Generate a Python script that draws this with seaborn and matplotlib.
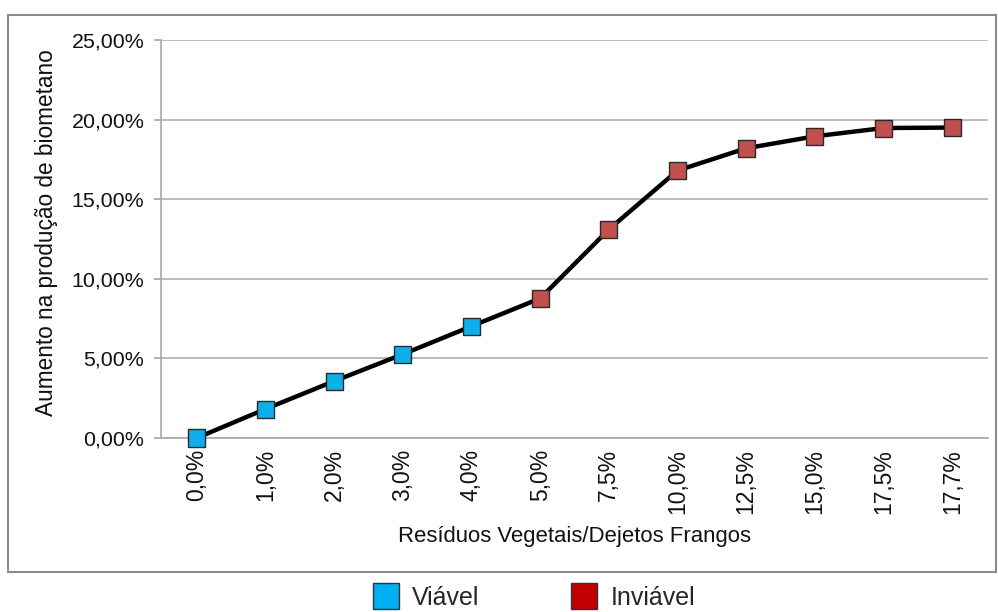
import matplotlib
matplotlib.use("Agg")
import matplotlib.pyplot as plt
import seaborn as sns
import pandas as pd
from matplotlib.lines import Line2D
from matplotlib.patches import Rectangle
from matplotlib.ticker import FuncFormatter

categories = ["0,0%", "1,0%", "2,0%", "3,0%", "4,0%", "5,0%", "7,5%",
              "10,0%", "12,5%", "15,0%", "17,5%", "17,7%"]
values = [0.0, 1.82, 3.57, 5.26, 7.02, 8.77, 13.1, 16.8, 18.2, 18.95, 19.47, 19.5]
status = ["Viável"] * 5 + ["Inviável"] * 7
yticks = [0, 5, 10, 15, 20, 25]

df = pd.DataFrame({"pos": range(len(categories)), "cat": categories,
                   "val": values, "status": status})

sns.set_theme(style="white")
plt.rcParams["font.family"] = ["Liberation Sans", "DejaVu Sans"]

fig = plt.figure(figsize=(9.98, 6.12), dpi=100)
ax = fig.add_axes([161 / 998, 1 - 438 / 612, (988 - 161) / 998, (438 - 40) / 612])

sns.lineplot(data=df, x="pos", y="val", color="black", lw=3.2, ax=ax, zorder=2)
sns.scatterplot(data=df, x="pos", y="val", hue="status",
                palette={"Viável": "#0EAEEB", "Inviável": "#C0504D"},
                marker="s", s=150, edgecolor="#2a2a2a", linewidth=1.0,
                ax=ax, zorder=3, legend=False, clip_on=False)

ax.set_xlim(-0.52, len(categories) - 0.48)
ax.set_ylim(0, 25)
ax.set_yticks(yticks)
ax.yaxis.set_major_formatter(FuncFormatter(lambda v, p: f"{v:.2f}%".replace(".", ",")))
ax.set_xticks(df["pos"])
ax.set_xticklabels(categories, rotation=90)
ax.grid(axis="y", color="#b0b0b0", lw=1.2)
ax.grid(axis="x", visible=False)
for s in ["top", "right"]:
    ax.spines[s].set_visible(False)
ax.spines["left"].set_color("#a8a8a8")
ax.spines["bottom"].set_color("#a8a8a8")
ax.spines["left"].set_linewidth(1.2)
ax.spines["bottom"].set_linewidth(1.2)
ax.tick_params(axis="y", which="both", left=True, length=5, color="#a8a8a8",
               labelsize=15.4, pad=7, labelcolor="#111")
ax.tick_params(axis="x", bottom=False, labelsize=16.5, pad=2, labelcolor="#111")
ax.set_xlabel("Resíduos Vegetais/Dejetos Frangos", fontsize=15.9, color="#111")
ax.set_ylabel("Aumento na produção de biometano", fontsize=16.3, color="#111")
ax.xaxis.set_label_coords(0.5, -(526 - 438) / 398)
ax.yaxis.set_label_coords(-(161 - 58) / 827, (438 - 233) / 398)

# outer frame
fig.patches.append(Rectangle((8 / 998, 1 - 572 / 612), (996 - 8) / 998, (572 - 15) / 612,
                             transform=fig.transFigure, fill=False,
                             edgecolor="#8c8c8c", lw=1.5))

handles = [Line2D([], [], marker="s", ls="none", markersize=19,
                  markerfacecolor="#00B0F0", markeredgecolor="#333", markeredgewidth=1.0),
           Line2D([], [], marker="s", ls="none", markersize=19,
                  markerfacecolor="#C00000", markeredgecolor="#333", markeredgewidth=1.0)]
fig.legend(handles, ["Viável", "Inviável"], ncol=2, loc="center",
           bbox_to_anchor=(533 / 998, 1 - 598 / 612), frameon=False,
           fontsize=18, columnspacing=3.6, handletextpad=0.45, handlelength=1.2,
           borderpad=0)

fig.savefig("out.png", dpi=100)
